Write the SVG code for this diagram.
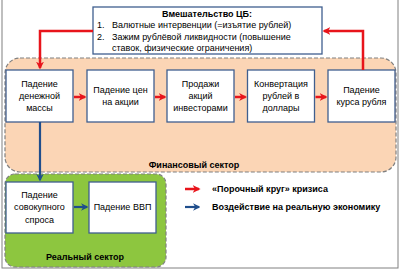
<svg xmlns="http://www.w3.org/2000/svg" width="401" height="271" viewBox="0 0 401 271">
<defs>
<style>
.t{font-family:"Liberation Sans",Arial,sans-serif;font-size:9px;fill:#000}
.b{font-weight:bold}
.c{text-anchor:middle}
.box{fill:#fff;stroke:#3f5f8f;stroke-width:1.3}
.red{stroke:#e8141b;stroke-width:2.5;fill:none}
.blue{stroke:#1f4e8c;stroke-width:2.2;fill:none}
.sector{stroke:#808080;stroke-width:1.2;stroke-dasharray:4 2}
</style>
<marker id="ar" viewBox="0 0 10 10" refX="8" refY="5" markerWidth="3.2" markerHeight="3.2" orient="auto" markerUnits="strokeWidth">
<path d="M0,0 L10,5 L0,10 L3,5 z" fill="#e8141b"/>
</marker>
<marker id="ab" viewBox="0 0 10 10" refX="8" refY="5" markerWidth="3.4" markerHeight="3.4" orient="auto" markerUnits="strokeWidth">
<path d="M0,0 L10,5 L0,10 L3,5 z" fill="#1f4e8c"/>
</marker>
</defs>
<rect x="0" y="0" width="401" height="271" fill="#fff"/>
<rect x="2" y="-2" width="396" height="270" fill="none" stroke="#808080" stroke-width="1"/>

<g id="financial-sector">
<rect class="sector" x="5" y="58" width="391" height="114" rx="15" fill="#fbd5b5"/>
<text class="t b c" x="194" y="168">Финансовый сектор</text>
</g>
<g id="real-sector">
<rect class="sector" x="5" y="174" width="161" height="93" rx="10" fill="#8dc63f"/>
<text class="t b c" x="85" y="260">Реальный сектор</text>
</g>

<g id="cb">
<rect class="box" x="93" y="7" width="229" height="47"/>
<text class="t b c" x="207" y="17">Вмешательство ЦБ:</text>
<text class="t" x="97" y="28">1.</text>
<text class="t" x="112" y="28">Валютные интервенции (=изъятие рублей)</text>
<text class="t" x="97" y="40">2.</text>
<text class="t" x="112" y="40">Зажим рублёвой ликвидности (повышение</text>
<text class="t" x="112" y="51">ставок, физические ограничения)</text>
</g>

<g id="n1"><rect class="box" x="6" y="70" width="67" height="52"/>
<text class="t c" x="39.5" y="87">Падение</text><text class="t c" x="39.5" y="99">денежной</text><text class="t c" x="39.5" y="111">массы</text></g>
<g id="n2"><rect class="box" x="87" y="70" width="67" height="52"/>
<text class="t c" x="120.5" y="93">Падение цен</text><text class="t c" x="120.5" y="105">на акции</text></g>
<g id="n3"><rect class="box" x="167" y="70" width="67" height="52"/>
<text class="t c" x="200.5" y="87">Продажи</text><text class="t c" x="200.5" y="99">акций</text><text class="t c" x="200.5" y="111">инвесторами</text></g>
<g id="n4"><rect class="box" x="247.5" y="70" width="67" height="52"/>
<text class="t c" x="281" y="87">Конвертация</text><text class="t c" x="281" y="99">рублей в</text><text class="t c" x="281" y="111">доллары</text></g>
<g id="n5"><rect class="box" x="328" y="70" width="67" height="52"/>
<text class="t c" x="361.5" y="93">Падение</text><text class="t c" x="361.5" y="105">курса рубля</text></g>

<g id="n6"><rect class="box" x="6" y="182" width="67" height="51"/>
<text class="t c" x="39.5" y="198">Падение</text><text class="t c" x="39.5" y="210">совокупного</text><text class="t c" x="39.5" y="223">спроса</text></g>
<g id="n7"><rect class="box" x="89" y="182" width="67" height="51"/>
<text class="t c" x="122.5" y="210">Падение ВВП</text></g>

<g id="connectors">
<path class="red" d="M93,31 H40 V68" marker-end="url(#ar)"/>
<path class="red" d="M363,70 V31 H324" marker-end="url(#ar)"/>
<path class="red" d="M74,97 H85" marker-end="url(#ar)"/>
<path class="red" d="M155,97 H165" marker-end="url(#ar)"/>
<path class="red" d="M235,97 H245.5" marker-end="url(#ar)"/>
<path class="red" d="M315.5,97 H326" marker-end="url(#ar)"/>
<path class="blue" d="M40,122 V180" marker-end="url(#ab)"/>
<path class="blue" d="M74,207 H87" marker-end="url(#ab)"/>
</g>

<g id="legend">
<path class="red" d="M185,189 H199" marker-end="url(#ar)"/>
<path class="blue" d="M185,207 H199" marker-end="url(#ab)"/>
<text class="t b" x="212" y="192">«Порочный круг» кризиса</text>
<text class="t b" x="212" y="210">Воздействие на реальную экономику</text>
</g>
</svg>
